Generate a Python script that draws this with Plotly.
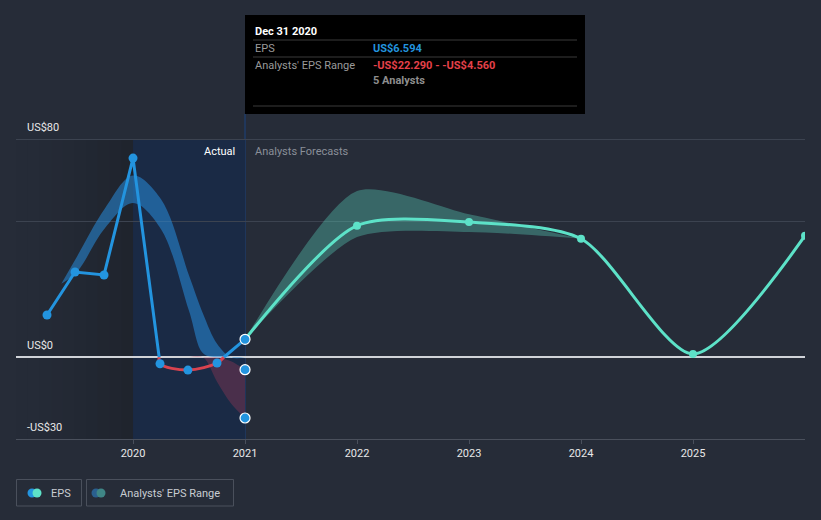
import plotly.graph_objects as go

# ---- data ----
actual_x = [2019.232, 2019.482, 2019.741, 2020.0, 2020.241, 2020.49, 2020.75, 2021.0]
actual_eps = [15.5, 31.3, 30.2, 73.1, -2.4, -4.7, -2.1, 6.594]

past_range_x = [2019.36, 2019.5, 2019.75, 2020.0, 2020.25, 2020.5, 2020.625, 2020.75, 2020.875, 2021.0]
past_range_high = [27, 37, 54.7, 66.7, 58, 30, 16, 5, -1.5, -4.56]
past_range_low = [27, 31.4, 47.4, 56.6, 47, 17, 1.5, -9, -17, -22.29]

forecast_x = [2021, 2022, 2023, 2024, 2025, 2026]
forecast_eps = [6.594, 48.3, 49.6, 43.5, 1.2, 44.6]

forecast_range_x = [2021, 2022, 2023, 2024]
forecast_range_high = [6.594, 61, 52.5, 43.5]
forecast_range_low = [6.594, 44.1, 46, 43.5]

years = [2020, 2021, 2022, 2023, 2024, 2025]
y_labels = {80: "US$80", 0: "US$0", -30: "-US$30"}

# ---- colours ----
BG = "#262c38"
BLUE = "#2394df"
RED = "#d9434f"
TEAL = "#5de2c8"
FONT = "Roboto"

W, H = 821, 520
ML, MR, MT, MB = 16, 16, 10, 81
X0, X1 = 2018.955, 2026.0
Y0, Y1 = -30, 127.45


def px(x):
    return (x - ML) / (W - ML - MR)


def py(y):
    return (H - MB - y) / (H - MT - MB)


fig = go.Figure()

# historical analyst range, split at zero (blue above, red-ish below)
pos_hi = [max(v, 0) for v in past_range_high]
pos_lo = [max(v, 0) for v in past_range_low]
neg_hi = [min(v, 0) for v in past_range_high]
neg_lo = [min(v, 0) for v in past_range_low]

fig.add_trace(go.Scatter(x=past_range_x, y=pos_hi, mode="lines", line=dict(width=0, shape="spline"),
                         hoverinfo="skip", showlegend=False))
fig.add_trace(go.Scatter(x=past_range_x, y=pos_lo, mode="lines", line=dict(width=0, shape="spline"),
                         fill="tonexty", fillcolor="rgba(40,140,220,0.55)", hoverinfo="skip", showlegend=False))
fig.add_trace(go.Scatter(x=past_range_x[5:], y=neg_hi[5:], mode="lines", line=dict(width=0, shape="spline"),
                         hoverinfo="skip", showlegend=False))
fig.add_trace(go.Scatter(x=past_range_x[5:], y=neg_lo[5:], mode="lines", line=dict(width=0, shape="spline"),
                         fill="tonexty", fillcolor="rgba(200,60,95,0.28)", hoverinfo="skip", showlegend=False))

# forecast analyst range
fig.add_trace(go.Scatter(x=forecast_range_x, y=forecast_range_high, mode="lines",
                         line=dict(width=0, shape="spline", smoothing=0.7), hoverinfo="skip", showlegend=False))
fig.add_trace(go.Scatter(x=forecast_range_x, y=forecast_range_low, mode="lines",
                         line=dict(width=0, shape="spline", smoothing=0.7), fill="tonexty",
                         fillcolor="rgba(93,226,200,0.33)", hoverinfo="skip", showlegend=False))

# forecast EPS line
fig.add_trace(go.Scatter(x=forecast_x, y=forecast_eps, mode="lines+markers",
                         line=dict(color=TEAL, width=3, shape="spline", smoothing=0.75),
                         marker=dict(color=TEAL, size=8), hoverinfo="skip", showlegend=False))


# actual EPS: blue where positive, red spline where negative
def cross(i):
    x_a, x_b = actual_x[i], actual_x[i + 1]
    y_a, y_b = actual_eps[i], actual_eps[i + 1]
    return x_a + (x_b - x_a) * y_a / (y_a - y_b)


c1 = cross(3)
c2 = cross(6)
blue_x = actual_x[:4] + [c1, None, c2, actual_x[7]]
blue_y = actual_eps[:4] + [0, None, 0, actual_eps[7]]
fig.add_trace(go.Scatter(x=blue_x, y=blue_y, mode="lines", line=dict(color=BLUE, width=3),
                         hoverinfo="skip", showlegend=False))
fig.add_trace(go.Scatter(x=[c1] + actual_x[4:7] + [c2], y=[0] + actual_eps[4:7] + [0], mode="lines",
                         line=dict(color=RED, width=3, shape="spline"), hoverinfo="skip", showlegend=False))
fig.add_trace(go.Scatter(x=actual_x[:7], y=actual_eps[:7], mode="markers",
                         marker=dict(color=BLUE, size=9), hoverinfo="skip", showlegend=False))
fig.add_trace(go.Scatter(x=[actual_x[7]] * 3, y=[actual_eps[7], past_range_high[-1], past_range_low[-1]],
                         mode="markers", marker=dict(color=BLUE, size=10, line=dict(color="white", width=1.2)),
                         hoverinfo="skip", showlegend=False))

shapes = []
# darkening gradient before 2020
steps = 10
for i in range(steps):
    xa = X0 + (2020 - X0) * i / steps
    xb = X0 + (2020 - X0) * (i + 1) / steps
    shapes.append(dict(type="rect", xref="x", yref="y", x0=xa, x1=xb, y0=Y0, y1=80, layer="below",
                       line=dict(width=0), fillcolor="rgba(0,0,0,%.3f)" % (0.18 * ((i + 1) / steps) ** 1.5)))
# actual period shading
shapes.append(dict(type="rect", xref="x", yref="y", x0=2020, x1=2021, y0=Y0, y1=80, layer="below",
                   line=dict(width=0), fillcolor="#1a2a45"))
# divider at last actual
shapes.append(dict(type="line", xref="x", yref="paper", x0=2021, x1=2021, y0=0, y1=py(114),
                   layer="below", line=dict(color="#1f3c68", width=1.5)))

# tooltip box
shapes.append(dict(type="rect", xref="paper", yref="paper", x0=px(245), x1=px(585), y0=py(15), y1=py(114),
                   fillcolor="#000000", line=dict(width=0), layer="above"))
for yy in (40, 57, 106):
    shapes.append(dict(type="line", xref="paper", yref="paper", x0=px(253), x1=px(577), y0=py(yy), y1=py(yy),
                       line=dict(color="#3a3a3a", width=1), layer="above"))

# legend boxes
for xa, xb in ((16.5, 81.5), (86.5, 233.5)):
    shapes.append(dict(type="rect", xref="paper", yref="paper", x0=px(xa), x1=px(xb), y0=py(479.5), y1=py(506),
                       line=dict(color="#4a505c", width=1), fillcolor="rgba(0,0,0,0)"))
for cx, col in ((32, BLUE), (37, TEAL), (96, "#2a5f8f"), (101, "#3f8686")):
    shapes.append(dict(type="circle", xref="paper", yref="paper", x0=px(cx - 4.5), x1=px(cx + 4.5),
                       y0=py(497.5), y1=py(488.5), line=dict(width=0), fillcolor=col))

annotations = []
for val, txt in y_labels.items():
    pix = 357.3 - val * 2.725 - 12
    annotations.append(dict(x=px(25), y=py(pix), xref="paper", yref="paper", text=txt, showarrow=False,
                            xanchor="left", yanchor="middle", font=dict(color="#e8e8e8", size=11, family=FONT)))

annotations.append(dict(x=px(237), y=py(151), xref="paper", yref="paper", text="Actual", showarrow=False,
                        xanchor="right", yanchor="middle", font=dict(color="#ffffff", size=11, family=FONT)))
annotations.append(dict(x=px(253), y=py(151), xref="paper", yref="paper", text="Analysts Forecasts",
                        showarrow=False, xanchor="left", yanchor="middle",
                        font=dict(color="#8a8f98", size=11, family=FONT)))

# tooltip text
tip = [
    (253, 31, "<b>Dec 31 2020</b>", "#ffffff"),
    (253, 48, "EPS", "#9a9a9a"),
    (371, 48, "<b>US$6.594</b>", BLUE),
    (253, 65, "Analysts' EPS Range", "#9a9a9a"),
    (371, 65, "<b>-US$22.290 - -US$4.560</b>", "#e5404a"),
    (371, 81, "<b>5 Analysts</b>", "#8e8e8e"),
]
for x, y, txt, col in tip:
    annotations.append(dict(x=px(x), y=py(y), xref="paper", yref="paper", text=txt, showarrow=False,
                            xanchor="left", yanchor="middle", font=dict(color=col, size=11, family=FONT)))

# legend text
for x, txt in ((49, "EPS"), (118, "Analysts' EPS Range")):
    annotations.append(dict(x=px(x), y=py(493), xref="paper", yref="paper", text=txt, showarrow=False,
                            xanchor="left", yanchor="middle", font=dict(color="#c8ccd2", size=11, family=FONT)))

fig.update_layout(
    width=W, height=H,
    margin=dict(l=ML, r=MR, t=MT, b=MB),
    paper_bgcolor=BG, plot_bgcolor=BG,
    showlegend=False,
    shapes=shapes,
    annotations=annotations,
    font=dict(family=FONT, color="#e8e8e8", size=11),
    xaxis=dict(range=[X0, X1], tickvals=years, ticktext=[str(y) for y in years],
               showgrid=False, zeroline=False, showline=True, linecolor="#4a505c", linewidth=1,
               ticks="outside", ticklen=4, tickcolor="#4a505c", tickfont=dict(color="#e8e8e8", size=11)),
    yaxis=dict(range=[Y0, Y1], tickvals=[50, 80], showticklabels=False, showgrid=True,
               gridcolor="#3c4350", gridwidth=1, zeroline=True, zerolinecolor="#d0d3d8", zerolinewidth=1.5,
               showline=False),
)

# page body has a default 8px margin; drop it so the figure sits at the window origin
fig.write_html("out.html", config={"displayModeBar": False},
               post_script="document.body.style.margin='0';document.body.style.background='%s';" % BG)
